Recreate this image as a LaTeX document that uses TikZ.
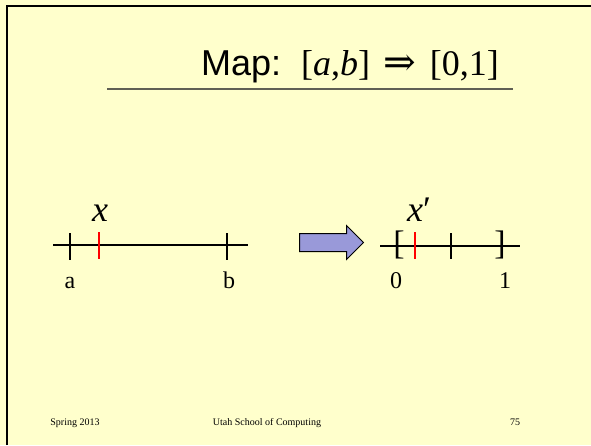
\documentclass[tikz,border=0pt]{standalone}
\usepackage{fontspec}
\setmainfont{Liberation Serif}
\newfontfamily\titlefont{Liberation Sans}
\newfontfamily\symbfont{DejaVu Serif}
\usepackage{xcolor}
\usepackage{tikz}
\usetikzlibrary{shapes.arrows}

\definecolor{slidebg}{RGB}{255,255,204}
\definecolor{arrowfill}{RGB}{153,153,217}
\definecolor{rulegray}{RGB}{96,96,84}

\begin{document}
\begin{tikzpicture}[
  x=1pt, y=-1pt,
  axis/.style={line width=1.3pt},
  tick/.style={line width=1.3pt},
  redtick/.style={line width=1.8pt, red},
  ticklabel/.style={font=\fontsize{24}{24}\selectfont, inner sep=0pt, anchor=base},
  varlabel/.style={font=\fontsize{36}{36}\selectfont, inner sep=0pt, anchor=base},
  bracket/.style={font=\fontsize{34}{34}\selectfont, inner sep=0pt},
  footer/.style={font=\fontsize{10}{12}\selectfont, inner sep=0pt, anchor=base}
]
% slide background and frame
\fill[slidebg] (0,0) rectangle (591,445);
\useasboundingbox (0,0) rectangle (591,445);
\draw[line width=2pt] (7,445) -- (7,6) -- (591,6);

% title
\node[anchor=base west, inner sep=0pt, font=\fontsize{36}{40}\selectfont] (title) at (201,75)
  {{\titlefont Map:}\hspace{20pt}[\textit{a},\textit{b}]\hspace{13pt}{\fontsize{39}{40}\selectfont\symbfont ⇒}\hspace{14pt}[0,1]};
\draw[line width=1.6pt, rulegray] (107,89) -- (513,89);

% interval [a,b]
\coordinate (lstart) at (53,245);
\coordinate (lend) at (248,245);
\draw[axis] (lstart) -- (lend);
\draw[tick] (70,233) -- (70,260);
\draw[tick] (227,233) -- (227,260);
\draw[redtick] (99,232) -- (99,259);
\node[ticklabel] (alabel) at (70,288) {a};
\node[ticklabel] (blabel) at (229,288) {b};
\node[varlabel] (xlabel) at (100,221) {\textit{x}};

% map arrow
\node[single arrow, draw, line width=1pt, fill=arrowfill, inner xsep=0pt, inner ysep=8.5pt,
  single arrow head extend=8pt, minimum height=64pt] (maparrow) at (327,242.5) {};

% interval [0,1]
\coordinate (rstart) at (380,246);
\coordinate (rend) at (520,246);
\draw[axis] (rstart) -- (rend);
\node[bracket] (lbrack) at (399,245) {[};
\node[bracket] (rbrack) at (500,245) {]};
\draw[tick] (451,233) -- (451,259);
\draw[redtick] (415,232) -- (415,259);
\node[ticklabel] (zerolabel) at (396,288) {0};
\node[ticklabel] (onelabel) at (505,288) {1};
\node[varlabel] (xplabel) at (419,221) {\textit{x}′};

% footer
\node[footer] (date) at (75,425) {Spring 2013};
\node[footer] (school) at (267,425) {Utah School of Computing};
\node[footer] (page) at (515,425) {75};
\end{tikzpicture}
\end{document}
